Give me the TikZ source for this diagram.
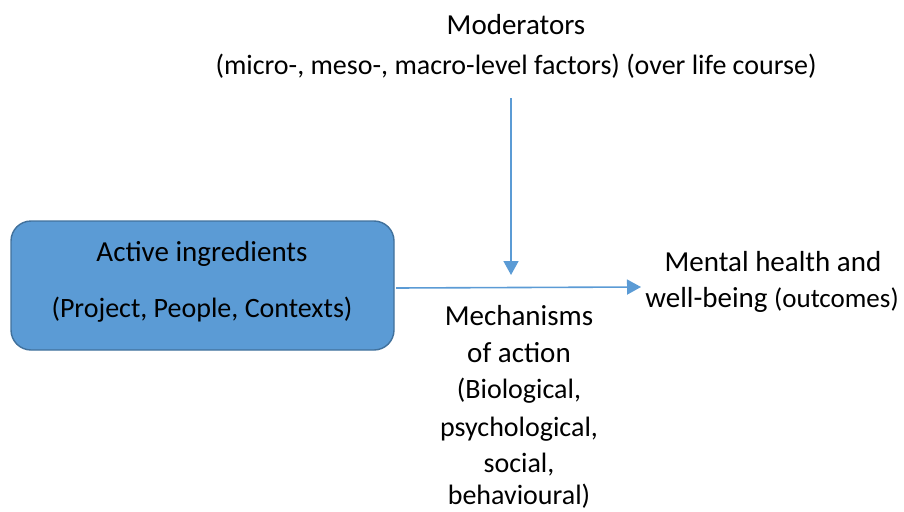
\documentclass[tikz,border=0pt]{standalone}
\usepackage{fontspec}
\setmainfont{Carlito}
\usetikzlibrary{arrows.meta}
\definecolor{boxfill}{HTML}{5B9BD5}
\definecolor{boxline}{HTML}{41719C}
\definecolor{arrowc}{HTML}{5B9BD5}
\tikzset{
  big/.style={font=\fontsize{29}{34}\selectfont, inner sep=0pt, anchor=center},
  small/.style={font=\fontsize{28}{33}\selectfont, inner sep=0pt, anchor=center},
  conn/.style={draw=arrowc, line width=1.6pt, -{Triangle[length=14pt,width=15pt]}},
}
\begin{document}
\begin{tikzpicture}[x=1pt,y=-1pt]
\useasboundingbox (0,0) rectangle (904,511);
\draw[fill=boxfill, draw=boxline, line width=1.4pt, rounded corners=20pt] (11,221) rectangle (394,350);
\node (box) at (202.5,285.5) [minimum width=383pt, minimum height=129pt, inner sep=0pt] {};
\node[big] (ai) at (202,254) {Active ingredients};
\node[small] (aip) at (202,310) {(Project, People, Contexts)};
\node[big] (mod) at (516,25) {Moderators};
\node[small] (modp) at (516,66) {(micro-, meso-, macro-level factors) (over life course)};
\node[big] (mh1) at (773,262) {Mental health and};
\node (mh2) at (772,300) [inner sep=0pt] {\fontsize{29}{34}\selectfont well-being \fontsize{27}{32}\selectfont(outcomes)};
\node[big] (me1) at (519,316) {Mechanisms};
\node[big] (me2) at (519,353) {of action};
\node[small] (me3) at (519,391) {(Biological,};
\node[small] (me4) at (519,429) {psychological,};
\node[small] (me5) at (519,465) {social,};
\node[small] (me6) at (519,496) {behavioural)};
\coordinate (vtop) at (511,98);
\coordinate (vend) at (511,275);
\coordinate (hstart) at (396,288);
\coordinate (hend) at (641,287);
\draw[conn] (vtop) -- (vend);
\draw[conn] (hstart) -- (hend);
\end{tikzpicture}
\end{document}
